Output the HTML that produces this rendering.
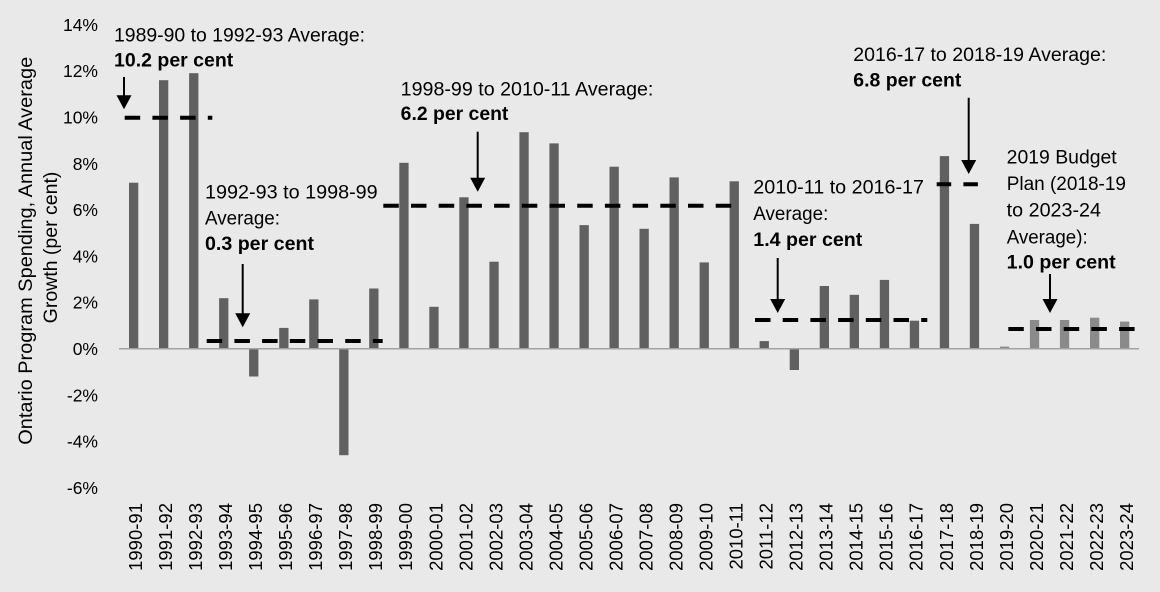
<!DOCTYPE html>
<html>
<head>
<meta charset="utf-8">
<style>
  html, body { margin: 0; padding: 0; background: #e9e9e9; }
  svg { display: block; }
  text { font-family: "Liberation Sans", Arial, sans-serif; fill: #000; }
</style>
</head>
<body>
<svg width="1160" height="592" viewBox="0 0 1160 592" xmlns="http://www.w3.org/2000/svg">
  <rect x="0" y="0" width="1160" height="592" fill="#e9e9e9"/>

  <!-- Y axis title -->
  <text transform="translate(32,250.8) rotate(-90)" text-anchor="middle" font-size="19" textLength="388" lengthAdjust="spacingAndGlyphs">Ontario Program Spending, Annual Average</text>
  <text transform="translate(57,247.5) rotate(-90)" text-anchor="middle" font-size="19" textLength="151.7" lengthAdjust="spacingAndGlyphs">Growth (per cent)</text>

  <!-- Y tick labels -->
  <g font-size="17.5" text-anchor="end">
    <text x="98" y="30.9">14%</text>
    <text x="98" y="77.2">12%</text>
    <text x="98" y="123.5">10%</text>
    <text x="98" y="169.8">8%</text>
    <text x="98" y="216.1">6%</text>
    <text x="98" y="262.4">4%</text>
    <text x="98" y="308.7">2%</text>
    <text x="98" y="355">0%</text>
    <text x="98" y="401.3">-2%</text>
    <text x="98" y="447.6">-4%</text>
    <text x="98" y="493.9">-6%</text>
  </g>

  <!-- Bars -->
  <g fill="#606060">
    <rect x="129.0" y="182.7" width="9.3" height="166.0"/>
    <rect x="159.0" y="80.2" width="9.3" height="268.5"/>
    <rect x="189.1" y="73.2" width="9.3" height="275.5"/>
    <rect x="219.1" y="298.2" width="9.3" height="50.5"/>
    <rect x="249.1" y="348.7" width="9.3" height="27.8"/>
    <rect x="279.2" y="327.9" width="9.3" height="20.8"/>
    <rect x="309.2" y="299.4" width="9.3" height="49.3"/>
    <rect x="339.2" y="348.7" width="9.3" height="106.5"/>
    <rect x="369.2" y="288.5" width="9.3" height="60.2"/>
    <rect x="399.3" y="162.8" width="9.3" height="185.9"/>
    <rect x="429.3" y="306.8" width="9.3" height="41.9"/>
    <rect x="459.3" y="197.3" width="9.3" height="151.4"/>
    <rect x="489.4" y="261.7" width="9.3" height="87.0"/>
    <rect x="519.4" y="132.2" width="9.3" height="216.5"/>
    <rect x="549.4" y="143.4" width="9.3" height="205.3"/>
    <rect x="579.5" y="225.1" width="9.3" height="123.6"/>
    <rect x="609.5" y="166.7" width="9.3" height="182.0"/>
    <rect x="639.5" y="228.8" width="9.3" height="119.9"/>
    <rect x="669.5" y="177.4" width="9.3" height="171.3"/>
    <rect x="699.6" y="262.4" width="9.3" height="86.3"/>
    <rect x="729.6" y="181.3" width="9.3" height="167.4"/>
    <rect x="759.6" y="341.1" width="9.3" height="7.6"/>
    <rect x="789.7" y="348.7" width="9.3" height="21.3"/>
    <rect x="819.7" y="286.0" width="9.3" height="62.7"/>
    <rect x="849.7" y="294.8" width="9.3" height="53.9"/>
    <rect x="879.8" y="279.9" width="9.3" height="68.8"/>
    <rect x="909.8" y="320.7" width="9.3" height="28.0"/>
    <rect x="939.8" y="156.1" width="9.3" height="192.6"/>
    <rect x="969.8" y="223.9" width="9.3" height="124.8"/>
  </g>
  <g fill="#8a8a8a">
    <rect x="999.9" y="346.6" width="9.3" height="2.1"/>
    <rect x="1029.9" y="320.0" width="9.3" height="28.7"/>
    <rect x="1059.9" y="320.0" width="9.3" height="28.7"/>
    <rect x="1090.0" y="317.7" width="9.3" height="31.0"/>
    <rect x="1120.0" y="321.6" width="9.3" height="27.1"/>
  </g>

  <!-- Zero axis line -->
  <line x1="119" y1="348.7" x2="1139" y2="348.7" stroke="#a3a3a3" stroke-width="1.5"/>

  <!-- Dashed average lines -->
  <g stroke="#000" stroke-width="4" stroke-dasharray="15.5 12.2" fill="none">
    <line x1="124.7" y1="117.7" x2="212.3" y2="117.7"/>
    <line x1="206.7" y1="341" x2="382.7" y2="341"/>
    <line x1="383.3" y1="205.7" x2="733.3" y2="205.7"/>
    <line x1="755" y1="320" x2="927.3" y2="320"/>
    <line x1="936.7" y1="184.3" x2="979" y2="184.3" stroke-dasharray="14.5 12.2"/>
    <line x1="1008.3" y1="329" x2="1135" y2="329"/>
  </g>

  <!-- Arrows -->
  <g stroke="#000" stroke-width="2">
    <line x1="124" y1="77" x2="124" y2="97"/>
    <line x1="242.7" y1="264" x2="242.7" y2="315"/>
    <line x1="477.7" y1="131.7" x2="477.7" y2="179"/>
    <line x1="777.7" y1="258" x2="777.7" y2="301"/>
    <line x1="968.7" y1="97.7" x2="968.7" y2="162"/>
    <line x1="1050" y1="274" x2="1050" y2="301"/>
  </g>
  <g fill="#000">
    <polygon points="116.5,95.3 131.5,95.3 124,109.3"/>
    <polygon points="235.2,313.3 250.2,313.3 242.7,327.3"/>
    <polygon points="470.2,177.7 485.2,177.7 477.7,191.7"/>
    <polygon points="770.2,299 785.2,299 777.7,313"/>
    <polygon points="961.2,160 976.2,160 968.7,174"/>
    <polygon points="1042.5,299 1057.5,299 1050,313"/>
  </g>

  <!-- Annotations -->
  <g font-size="19">
    <text x="114" y="41.7" textLength="251" lengthAdjust="spacingAndGlyphs">1989-90 to 1992-93 Average:</text>
    <text x="114" y="66.5" font-weight="bold" textLength="119.3" lengthAdjust="spacingAndGlyphs">10.2 per cent</text>

    <text x="205" y="198.3" textLength="172.7" lengthAdjust="spacingAndGlyphs">1992-93 to 1998-99</text>
    <text x="205" y="224.3" textLength="75" lengthAdjust="spacingAndGlyphs">Average:</text>
    <text x="205" y="250" font-weight="bold" textLength="109" lengthAdjust="spacingAndGlyphs">0.3 per cent</text>

    <text x="400.7" y="95.7" textLength="252.7" lengthAdjust="spacingAndGlyphs">1998-99 to 2010-11 Average:</text>
    <text x="400.7" y="120" font-weight="bold" textLength="107.7" lengthAdjust="spacingAndGlyphs">6.2 per cent</text>

    <text x="753.3" y="193.3" textLength="170.7" lengthAdjust="spacingAndGlyphs">2010-11 to 2016-17</text>
    <text x="753.3" y="220" textLength="75" lengthAdjust="spacingAndGlyphs">Average:</text>
    <text x="753.3" y="246" font-weight="bold" textLength="109" lengthAdjust="spacingAndGlyphs">1.4 per cent</text>

    <text x="853.3" y="61" textLength="253" lengthAdjust="spacingAndGlyphs">2016-17 to 2018-19 Average:</text>
    <text x="853.3" y="86.7" font-weight="bold" textLength="108" lengthAdjust="spacingAndGlyphs">6.8 per cent</text>

    <text x="1006.7" y="163.3" textLength="110" lengthAdjust="spacingAndGlyphs">2019 Budget</text>
    <text x="1006.7" y="190" textLength="119.3" lengthAdjust="spacingAndGlyphs">Plan (2018-19</text>
    <text x="1006.7" y="216.7" textLength="94.3" lengthAdjust="spacingAndGlyphs">to 2023-24</text>
    <text x="1006.7" y="243.3" textLength="81" lengthAdjust="spacingAndGlyphs">Average):</text>
    <text x="1006.7" y="268.3" font-weight="bold" textLength="109" lengthAdjust="spacingAndGlyphs">1.0 per cent</text>
  </g>

  <!-- X axis labels -->
  <g font-size="18.5" text-anchor="end">
    <text transform="translate(142.0,503) rotate(-90)">1990-91</text>
    <text transform="translate(172.0,503) rotate(-90)">1991-92</text>
    <text transform="translate(202.0,503) rotate(-90)">1992-93</text>
    <text transform="translate(232.0,503) rotate(-90)">1993-94</text>
    <text transform="translate(262.1,503) rotate(-90)">1994-95</text>
    <text transform="translate(292.1,503) rotate(-90)">1995-96</text>
    <text transform="translate(322.1,503) rotate(-90)">1996-97</text>
    <text transform="translate(352.2,503) rotate(-90)">1997-98</text>
    <text transform="translate(382.2,503) rotate(-90)">1998-99</text>
    <text transform="translate(412.2,503) rotate(-90)">1999-00</text>
    <text transform="translate(442.3,503) rotate(-90)">2000-01</text>
    <text transform="translate(472.3,503) rotate(-90)">2001-02</text>
    <text transform="translate(502.3,503) rotate(-90)">2002-03</text>
    <text transform="translate(532.3,503) rotate(-90)">2003-04</text>
    <text transform="translate(562.4,503) rotate(-90)">2004-05</text>
    <text transform="translate(592.4,503) rotate(-90)">2005-06</text>
    <text transform="translate(622.4,503) rotate(-90)">2006-07</text>
    <text transform="translate(652.5,503) rotate(-90)">2007-08</text>
    <text transform="translate(682.5,503) rotate(-90)">2008-09</text>
    <text transform="translate(712.5,503) rotate(-90)">2009-10</text>
    <text transform="translate(742.6,503) rotate(-90)">2010-11</text>
    <text transform="translate(772.6,503) rotate(-90)">2011-12</text>
    <text transform="translate(802.6,503) rotate(-90)">2012-13</text>
    <text transform="translate(832.6,503) rotate(-90)">2013-14</text>
    <text transform="translate(862.7,503) rotate(-90)">2014-15</text>
    <text transform="translate(892.7,503) rotate(-90)">2015-16</text>
    <text transform="translate(922.7,503) rotate(-90)">2016-17</text>
    <text transform="translate(952.8,503) rotate(-90)">2017-18</text>
    <text transform="translate(982.8,503) rotate(-90)">2018-19</text>
    <text transform="translate(1012.8,503) rotate(-90)">2019-20</text>
    <text transform="translate(1042.9,503) rotate(-90)">2020-21</text>
    <text transform="translate(1072.9,503) rotate(-90)">2021-22</text>
    <text transform="translate(1102.9,503) rotate(-90)">2022-23</text>
    <text transform="translate(1132.9,503) rotate(-90)">2023-24</text>
  </g>
</svg>
</body>
</html>
